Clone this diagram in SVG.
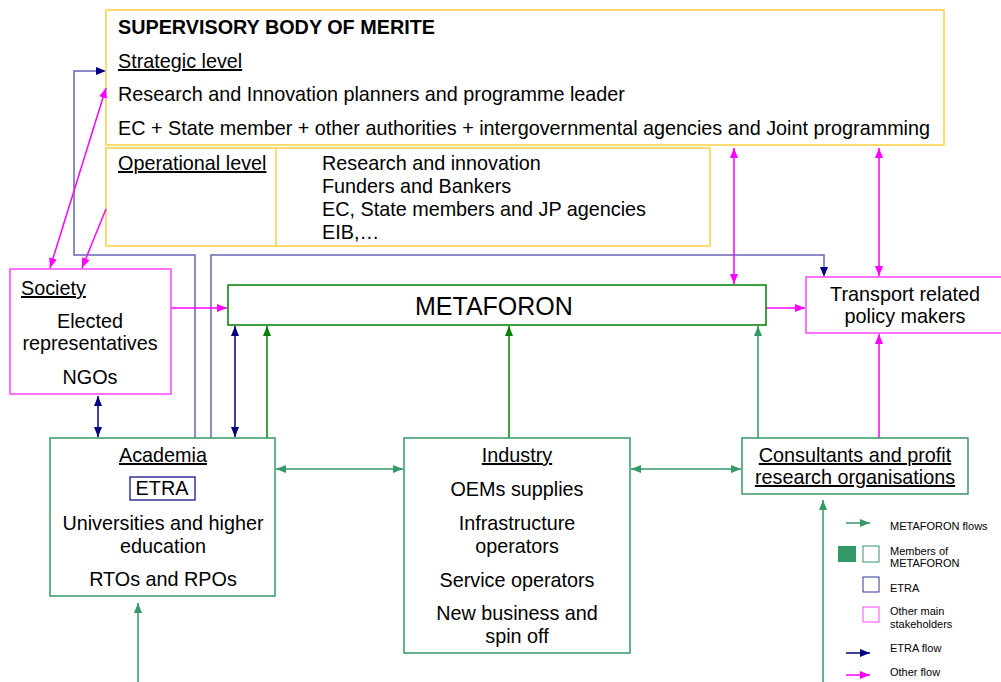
<svg xmlns="http://www.w3.org/2000/svg" width="1001" height="682" viewBox="0 0 1001 682">
<style>
text{font-family:"Liberation Sans",Arial,sans-serif;fill:#000;font-size:19.8px}
.c{text-anchor:middle}
.u{text-decoration:underline}
.yl{fill:#fff;stroke:#FFD040;stroke-width:1.5}
.pk{fill:#fff;stroke:#FF44FF;stroke-width:1.5}
.sg{fill:#fff;stroke:#339966;stroke-width:1.5}
.dg{fill:#fff;stroke:#008000;stroke-width:1.5}
.et{fill:#fff;stroke:#333399;stroke-width:1.5}
.lg{font-size:11px}
.ln{fill:none;stroke-width:1.5}
.pink{stroke:#FF00FF}
.navy{stroke:#000080}
.blue{stroke:#6666B3}
.green{stroke:#008000}
.sea{stroke:#339966}
</style>
<defs>
<marker id="aP" markerUnits="userSpaceOnUse" markerWidth="11" markerHeight="9" refX="10" refY="4" orient="auto-start-reverse"><path d="M0,0 L10,4 L0,8 z" fill="#FF00FF"/></marker>
<marker id="aN" markerUnits="userSpaceOnUse" markerWidth="11" markerHeight="9" refX="10" refY="4" orient="auto-start-reverse"><path d="M0,0 L10,4 L0,8 z" fill="#000080"/></marker>
<marker id="aG" markerUnits="userSpaceOnUse" markerWidth="11" markerHeight="9" refX="10" refY="4" orient="auto-start-reverse"><path d="M0,0 L10,4 L0,8 z" fill="#008000"/></marker>
<marker id="aS" markerUnits="userSpaceOnUse" markerWidth="11" markerHeight="9" refX="10" refY="4" orient="auto-start-reverse"><path d="M0,0 L10,4 L0,8 z" fill="#339966"/></marker>
</defs>
<rect width="1001" height="682" fill="#fff"/>

<g id="supervisory">
<rect class="yl" x="106" y="10" width="838" height="135"/>
<text x="118" y="34" font-weight="bold">SUPERVISORY BODY OF MERITE</text>
<text x="118" y="68" class="u">Strategic level</text>
<text x="118" y="101">Research and Innovation planners and programme leader</text>
<text x="118" y="135">EC + State member + other authorities + intergovernmental agencies and Joint programming</text>
</g>

<g id="operational">
<rect class="yl" x="106" y="148" width="604" height="98"/>
<line x1="276" y1="148" x2="276" y2="246" stroke="#FFD040" stroke-width="1.5"/>
<text x="118" y="170" class="u">Operational level</text>
<text x="322" y="170">Research and innovation</text>
<text x="322" y="193">Funders and Bankers</text>
<text x="322" y="216">EC, State members and JP agencies</text>
<text x="322" y="239">EIB,…</text>
</g>

<g id="connectors">
<path class="ln blue" d="M195,438 V255 H74 V71 H97"/>
<path d="M96,67 L106,71 L96,75 z" fill="#000080"/>
<path class="ln blue" d="M211,438 V255 H824 V268"/>
<path d="M820,267 L824,277 L828,267 z" fill="#000080"/>
<line class="ln navy" x1="98" y1="396" x2="98" y2="437" marker-start="url(#aN)" marker-end="url(#aN)"/>
<line class="ln navy" x1="235" y1="326" x2="235" y2="437" marker-start="url(#aN)" marker-end="url(#aN)"/>
<line class="ln green" x1="267" y1="438" x2="267" y2="326" marker-end="url(#aG)"/>
<line class="ln green" x1="509" y1="438" x2="509" y2="326" marker-end="url(#aG)"/>
<line class="ln sea" x1="758" y1="438" x2="758" y2="326" marker-end="url(#aS)"/>
<line class="ln sea" x1="276" y1="469" x2="403" y2="469" marker-start="url(#aS)" marker-end="url(#aS)"/>
<line class="ln sea" x1="631" y1="469" x2="741" y2="469" marker-start="url(#aS)" marker-end="url(#aS)"/>
<line class="ln sea" x1="138" y1="682" x2="138" y2="603" marker-end="url(#aS)"/>
<line class="ln sea" x1="823" y1="682" x2="823" y2="500" marker-end="url(#aS)"/>
<line class="ln pink" x1="171" y1="308" x2="227" y2="308" marker-end="url(#aP)"/>
<line class="ln pink" x1="766" y1="308" x2="805" y2="308" marker-end="url(#aP)"/>
<line class="ln pink" x1="734" y1="148" x2="734" y2="284" marker-start="url(#aP)" marker-end="url(#aP)"/>
<line class="ln pink" x1="879" y1="148" x2="879" y2="276" marker-start="url(#aP)" marker-end="url(#aP)"/>
<line class="ln pink" x1="879" y1="438" x2="879" y2="334" marker-end="url(#aP)"/>
<line class="ln pink" x1="50" y1="268" x2="106" y2="88" marker-start="url(#aP)" marker-end="url(#aP)"/>
<line class="ln pink" x1="106" y1="209" x2="82" y2="268" marker-end="url(#aP)"/>
</g>

<g id="society">
<rect class="pk" x="10" y="269" width="161" height="125"/>
<text x="21" y="295" class="u">Society</text>
<text x="90" y="328" class="c">Elected</text>
<text x="90" y="350" class="c">representatives</text>
<text x="90" y="384" class="c">NGOs</text>
</g>

<g id="metaforon">
<rect class="dg" x="228" y="285" width="538" height="40"/>
<text x="415" y="315" font-size="25px" style="font-size:25px">METAFORON</text>
</g>

<g id="transport">
<rect class="pk" x="806" y="277" width="200" height="56"/>
<text x="905" y="301" class="c">Transport related</text>
<text x="905" y="323" class="c">policy makers</text>
</g>

<g id="academia">
<rect class="sg" x="50" y="438" width="225" height="158"/>
<text x="163" y="462" class="c u">Academia</text>
<rect class="et" x="130" y="477" width="65" height="23"/>
<text x="162" y="495" class="c">ETRA</text>
<text x="163" y="530" class="c">Universities and higher</text>
<text x="163" y="553" class="c">education</text>
<text x="163" y="586" class="c">RTOs and RPOs</text>
</g>

<g id="industry">
<rect class="sg" x="404" y="438" width="226" height="215"/>
<text x="517" y="462" class="c u">Industry</text>
<text x="517" y="496" class="c">OEMs supplies</text>
<text x="517" y="530" class="c">Infrastructure</text>
<text x="517" y="553" class="c">operators</text>
<text x="517" y="587" class="c">Service operators</text>
<text x="517" y="620" class="c">New business and</text>
<text x="517" y="643" class="c">spin off</text>
</g>

<g id="consultants">
<rect class="sg" x="742" y="438" width="226" height="56"/>
<text x="855" y="462" class="c u">Consultants and profit</text>
<text x="855" y="484" class="c u">research organisations</text>
</g>

<g id="legend">
<line class="ln sea" x1="846" y1="523" x2="870" y2="523" marker-end="url(#aS)"/>
<text x="890" y="530" class="lg">METAFORON flows</text>
<rect x="838" y="546" width="18" height="16" fill="#339966"/>
<rect x="863" y="546" width="16" height="16" fill="#fff" stroke="#339966" stroke-width="1"/>
<text x="890" y="555" class="lg">Members of</text>
<text x="890" y="567" class="lg">METAFORON</text>
<rect x="863" y="577" width="16" height="15" fill="#fff" stroke="#333399" stroke-width="1"/>
<text x="890" y="592" class="lg">ETRA</text>
<rect x="863" y="607" width="16" height="15" fill="#fff" stroke="#FF44FF" stroke-width="1"/>
<text x="890" y="615" class="lg">Other main</text>
<text x="890" y="628" class="lg">stakeholders</text>
<line class="ln navy" x1="846" y1="653" x2="870" y2="653" marker-end="url(#aN)"/>
<text x="890" y="652" class="lg">ETRA flow</text>
<line class="ln pink" x1="846" y1="675" x2="870" y2="675" marker-end="url(#aP)"/>
<text x="890" y="676" class="lg">Other flow</text>
</g>
</svg>
